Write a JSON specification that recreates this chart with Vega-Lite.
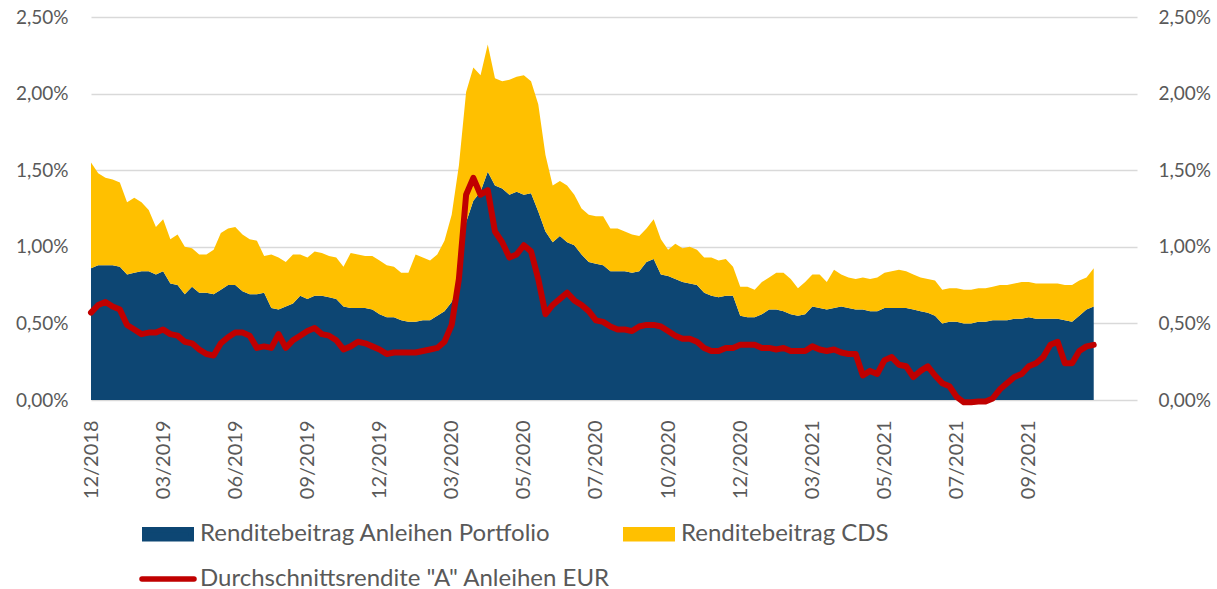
{
  "$schema": "https://vega.github.io/schema/vega-lite/v6.json",
  "width": 1046,
  "height": 383,
  "autosize": {"type": "none"},
  "padding": {"left": 91, "top": 17, "right": 80, "bottom": 189},
  "background": "white",
  "config": {
    "view": {"stroke": null},
    "font": "Lato",
    "axis": {"labelFont": "Lato", "labelColor": "#595959", "labelFontSize": 19}
  },
  "data": {"values": [
    {"d":"2018-12-03","p":0.86,"c":0.69,"r":0.57},
    {"d":"2018-12-12","p":0.88,"c":0.60,"r":0.62},
    {"d":"2018-12-21","p":0.88,"c":0.57,"r":0.64},
    {"d":"2018-12-31","p":0.88,"c":0.56,"r":0.61},
    {"d":"2019-01-09","p":0.87,"c":0.55,"r":0.59},
    {"d":"2019-01-18","p":0.82,"c":0.47,"r":0.49},
    {"d":"2019-01-28","p":0.83,"c":0.49,"r":0.46},
    {"d":"2019-02-05","p":0.84,"c":0.45,"r":0.43},
    {"d":"2019-02-14","p":0.84,"c":0.40,"r":0.44},
    {"d":"2019-02-22","p":0.82,"c":0.31,"r":0.44},
    {"d":"2019-03-04","p":0.84,"c":0.34,"r":0.46},
    {"d":"2019-03-13","p":0.76,"c":0.29,"r":0.43},
    {"d":"2019-03-22","p":0.75,"c":0.33,"r":0.42},
    {"d":"2019-04-01","p":0.69,"c":0.31,"r":0.38},
    {"d":"2019-04-10","p":0.74,"c":0.25,"r":0.37},
    {"d":"2019-04-19","p":0.70,"c":0.25,"r":0.33},
    {"d":"2019-04-29","p":0.70,"c":0.25,"r":0.30},
    {"d":"2019-05-08","p":0.69,"c":0.29,"r":0.29},
    {"d":"2019-05-17","p":0.72,"c":0.37,"r":0.37},
    {"d":"2019-05-24","p":0.75,"c":0.37,"r":0.41},
    {"d":"2019-06-03","p":0.75,"c":0.38,"r":0.44},
    {"d":"2019-06-12","p":0.71,"c":0.37,"r":0.44},
    {"d":"2019-06-21","p":0.69,"c":0.36,"r":0.42},
    {"d":"2019-07-01","p":0.69,"c":0.35,"r":0.34},
    {"d":"2019-07-10","p":0.70,"c":0.24,"r":0.35},
    {"d":"2019-07-19","p":0.60,"c":0.35,"r":0.34},
    {"d":"2019-07-29","p":0.59,"c":0.34,"r":0.43},
    {"d":"2019-08-07","p":0.61,"c":0.29,"r":0.34},
    {"d":"2019-08-16","p":0.63,"c":0.32,"r":0.39},
    {"d":"2019-08-23","p":0.68,"c":0.27,"r":0.42},
    {"d":"2019-09-02","p":0.66,"c":0.27,"r":0.45},
    {"d":"2019-09-11","p":0.68,"c":0.29,"r":0.47},
    {"d":"2019-09-20","p":0.68,"c":0.28,"r":0.43},
    {"d":"2019-09-30","p":0.67,"c":0.27,"r":0.42},
    {"d":"2019-10-09","p":0.66,"c":0.27,"r":0.39},
    {"d":"2019-10-18","p":0.61,"c":0.26,"r":0.33},
    {"d":"2019-10-28","p":0.60,"c":0.36,"r":0.35},
    {"d":"2019-11-06","p":0.60,"c":0.35,"r":0.38},
    {"d":"2019-11-15","p":0.60,"c":0.34,"r":0.37},
    {"d":"2019-11-22","p":0.59,"c":0.35,"r":0.35},
    {"d":"2019-12-02","p":0.56,"c":0.35,"r":0.33},
    {"d":"2019-12-11","p":0.54,"c":0.34,"r":0.30},
    {"d":"2019-12-20","p":0.54,"c":0.33,"r":0.31},
    {"d":"2019-12-30","p":0.52,"c":0.31,"r":0.31},
    {"d":"2020-01-08","p":0.51,"c":0.32,"r":0.31},
    {"d":"2020-01-17","p":0.51,"c":0.44,"r":0.31},
    {"d":"2020-01-27","p":0.52,"c":0.41,"r":0.32},
    {"d":"2020-02-05","p":0.52,"c":0.39,"r":0.33},
    {"d":"2020-02-14","p":0.55,"c":0.40,"r":0.34},
    {"d":"2020-02-21","p":0.58,"c":0.46,"r":0.38},
    {"d":"2020-03-02","p":0.64,"c":0.57,"r":0.49},
    {"d":"2020-03-08","p":0.76,"c":0.77,"r":0.79},
    {"d":"2020-03-14","p":1.16,"c":0.85,"r":1.34},
    {"d":"2020-03-21","p":1.30,"c":0.87,"r":1.45},
    {"d":"2020-03-27","p":1.36,"c":0.76,"r":1.34},
    {"d":"2020-04-02","p":1.49,"c":0.83,"r":1.37},
    {"d":"2020-04-08","p":1.40,"c":0.70,"r":1.10},
    {"d":"2020-04-15","p":1.38,"c":0.70,"r":1.03},
    {"d":"2020-04-21","p":1.34,"c":0.75,"r":0.93},
    {"d":"2020-04-27","p":1.36,"c":0.75,"r":0.95},
    {"d":"2020-05-04","p":1.34,"c":0.78,"r":1.01},
    {"d":"2020-05-10","p":1.35,"c":0.73,"r":0.97},
    {"d":"2020-05-16","p":1.23,"c":0.70,"r":0.79},
    {"d":"2020-05-21","p":1.10,"c":0.50,"r":0.56},
    {"d":"2020-05-27","p":1.03,"c":0.37,"r":0.62},
    {"d":"2020-06-02","p":1.07,"c":0.36,"r":0.66},
    {"d":"2020-06-08","p":1.03,"c":0.37,"r":0.70},
    {"d":"2020-06-14","p":1.01,"c":0.33,"r":0.65},
    {"d":"2020-06-19","p":0.95,"c":0.30,"r":0.62},
    {"d":"2020-06-25","p":0.90,"c":0.31,"r":0.58},
    {"d":"2020-07-01","p":0.89,"c":0.31,"r":0.52},
    {"d":"2020-07-10","p":0.88,"c":0.32,"r":0.51},
    {"d":"2020-07-19","p":0.84,"c":0.28,"r":0.48},
    {"d":"2020-07-28","p":0.84,"c":0.28,"r":0.46},
    {"d":"2020-08-06","p":0.84,"c":0.26,"r":0.46},
    {"d":"2020-08-15","p":0.83,"c":0.25,"r":0.45},
    {"d":"2020-08-24","p":0.84,"c":0.23,"r":0.48},
    {"d":"2020-09-02","p":0.90,"c":0.22,"r":0.49},
    {"d":"2020-09-11","p":0.92,"c":0.26,"r":0.49},
    {"d":"2020-09-20","p":0.82,"c":0.23,"r":0.48},
    {"d":"2020-10-01","p":0.81,"c":0.17,"r":0.45},
    {"d":"2020-10-07","p":0.79,"c":0.23,"r":0.42},
    {"d":"2020-10-13","p":0.77,"c":0.22,"r":0.40},
    {"d":"2020-10-19","p":0.76,"c":0.24,"r":0.40},
    {"d":"2020-10-25","p":0.75,"c":0.23,"r":0.38},
    {"d":"2020-10-31","p":0.70,"c":0.23,"r":0.34},
    {"d":"2020-11-06","p":0.68,"c":0.25,"r":0.32},
    {"d":"2020-11-12","p":0.67,"c":0.24,"r":0.32},
    {"d":"2020-11-18","p":0.68,"c":0.24,"r":0.34},
    {"d":"2020-11-24","p":0.68,"c":0.19,"r":0.34},
    {"d":"2020-12-01","p":0.55,"c":0.19,"r":0.36},
    {"d":"2020-12-10","p":0.54,"c":0.20,"r":0.36},
    {"d":"2020-12-19","p":0.54,"c":0.18,"r":0.36},
    {"d":"2020-12-28","p":0.56,"c":0.21,"r":0.34},
    {"d":"2021-01-06","p":0.59,"c":0.21,"r":0.34},
    {"d":"2021-01-15","p":0.59,"c":0.24,"r":0.33},
    {"d":"2021-01-24","p":0.58,"c":0.25,"r":0.34},
    {"d":"2021-02-02","p":0.56,"c":0.23,"r":0.32},
    {"d":"2021-02-11","p":0.55,"c":0.18,"r":0.32},
    {"d":"2021-02-20","p":0.56,"c":0.21,"r":0.32},
    {"d":"2021-03-01","p":0.61,"c":0.21,"r":0.35},
    {"d":"2021-03-07","p":0.60,"c":0.22,"r":0.33},
    {"d":"2021-03-13","p":0.59,"c":0.18,"r":0.32},
    {"d":"2021-03-20","p":0.60,"c":0.25,"r":0.33},
    {"d":"2021-03-26","p":0.61,"c":0.21,"r":0.31},
    {"d":"2021-04-01","p":0.60,"c":0.20,"r":0.30},
    {"d":"2021-04-07","p":0.59,"c":0.20,"r":0.30},
    {"d":"2021-04-14","p":0.59,"c":0.21,"r":0.16},
    {"d":"2021-04-20","p":0.58,"c":0.21,"r":0.19},
    {"d":"2021-04-26","p":0.58,"c":0.22,"r":0.17},
    {"d":"2021-05-03","p":0.60,"c":0.23,"r":0.26},
    {"d":"2021-05-09","p":0.60,"c":0.24,"r":0.28},
    {"d":"2021-05-15","p":0.60,"c":0.25,"r":0.23},
    {"d":"2021-05-21","p":0.60,"c":0.24,"r":0.22},
    {"d":"2021-05-27","p":0.59,"c":0.23,"r":0.15},
    {"d":"2021-06-02","p":0.58,"c":0.22,"r":0.19},
    {"d":"2021-06-08","p":0.57,"c":0.22,"r":0.22},
    {"d":"2021-06-14","p":0.55,"c":0.23,"r":0.16},
    {"d":"2021-06-19","p":0.50,"c":0.22,"r":0.11},
    {"d":"2021-06-25","p":0.51,"c":0.22,"r":0.09},
    {"d":"2021-07-01","p":0.51,"c":0.22,"r":0.02},
    {"d":"2021-07-07","p":0.50,"c":0.22,"r":-0.015},
    {"d":"2021-07-13","p":0.50,"c":0.22,"r":-0.015},
    {"d":"2021-07-19","p":0.51,"c":0.22,"r":-0.01},
    {"d":"2021-07-25","p":0.51,"c":0.22,"r":-0.01},
    {"d":"2021-07-31","p":0.52,"c":0.22,"r":0.01},
    {"d":"2021-08-06","p":0.52,"c":0.23,"r":0.07},
    {"d":"2021-08-12","p":0.52,"c":0.23,"r":0.11},
    {"d":"2021-08-18","p":0.53,"c":0.23,"r":0.15},
    {"d":"2021-08-24","p":0.53,"c":0.24,"r":0.17},
    {"d":"2021-09-01","p":0.54,"c":0.23,"r":0.22},
    {"d":"2021-09-07","p":0.53,"c":0.23,"r":0.24},
    {"d":"2021-09-14","p":0.53,"c":0.23,"r":0.28},
    {"d":"2021-09-21","p":0.53,"c":0.23,"r":0.36},
    {"d":"2021-09-27","p":0.53,"c":0.23,"r":0.38},
    {"d":"2021-10-04","p":0.52,"c":0.23,"r":0.24},
    {"d":"2021-10-11","p":0.51,"c":0.24,"r":0.24},
    {"d":"2021-10-17","p":0.55,"c":0.23,"r":0.32},
    {"d":"2021-10-24","p":0.59,"c":0.21,"r":0.35},
    {"d":"2021-10-31","p":0.61,"c":0.25,"r":0.36}
  ]},
  "encoding": {
    "x": {
      "field": "d",
      "type": "ordinal",
      "scale": {"type": "point", "padding": 0, "domain": {"unionWith": ["2021-11-07","2021-11-14","2021-11-21","2021-11-28","2021-12-05","2021-12-12"]}},
      "axis": {
        "title": null,
        "values": ["2018-12-03","2019-03-04","2019-06-03","2019-09-02","2019-12-02","2020-03-02","2020-05-04","2020-07-01","2020-10-01","2020-12-01","2021-03-01","2021-05-03","2021-07-01","2021-09-01"],
        "labelExpr": "slice(datum.value,5,7) + '/' + slice(datum.value,0,4)",
        "labelAngle": -90,
        "labelAlign": "right",
        "labelBaseline": "middle",
        "labelPadding": 20,
        "labelFontSize": 20,
        "ticks": false,
        "domain": false,
        "grid": false
      }
    }
  },
  "layer": [
    {
      "transform": [{"fold": ["p", "c"], "as": ["key", "val"]}],
      "mark": {"type": "area", "interpolate": "linear"},
      "encoding": {
        "y": {
          "field": "val",
          "type": "quantitative",
          "stack": "zero",
          "scale": {"domain": [0, 2.5], "nice": false},
          "axis": {
            "orient": "left",
            "title": null,
            "values": [0, 0.5, 1, 1.5, 2, 2.5],
            "labelExpr": "replace(format(datum.value, '.2f'), '.', ',') + '%'",
            "grid": true,
            "gridColor": "#D9D9D9",
            "gridWidth": 1.5,
            "domain": false,
            "ticks": false,
            "labelPadding": 23
          }
        },
        "color": {
          "field": "key",
          "type": "nominal",
          "scale": {"domain": ["p", "c", "r"], "range": ["#0D4673", "#FFC000", "#C00000"]},
          "legend": {
            "title": null,
            "orient": "none",
            "legendX": 48,
            "legendY": 488,
            "direction": "horizontal",
            "columns": 2,
            "symbolSize": 2704,
            "symbolStrokeWidth": 5.5,
            "labelFont": "Lato",
            "labelFontSize": 24,
            "labelColor": "#595959",
            "labelOffset": 3,
            "labelLimit": 800,
            "columnPadding": 4,
            "rowPadding": -8,
            "labelExpr": "datum.value == 'p' ? 'Renditebeitrag Anleihen Portfolio' : datum.value == 'c' ? 'Renditebeitrag CDS' : 'Durchschnittsrendite \"A\" Anleihen EUR'",
            "encode": {
              "symbols": {
                "update": {
                  "shape": {"signal": "datum.value == 'r' ? 'stroke' : 'M-0.894,-0.173H0.894V0.173H-0.894Z'"},
                  "fill": {"signal": "datum.value == 'p' ? '#0D4673' : datum.value == 'c' ? '#FFC000' : 'transparent'"},
                  "stroke": {"signal": "datum.value == 'p' ? '#0D4673' : datum.value == 'c' ? '#FFC000' : '#C00000'"},
                  "strokeWidth": {"value": 5.5},
                  "strokeCap": {"value": "round"},
                  "strokeJoin": {"value": "miter"},
                  "opacity": {"value": 1}
                }
              }
            }
          }
        },
        "order": {"field": "key", "sort": "descending"}
      }
    },
    {
      "mark": {"type": "line", "color": "#C00000", "strokeWidth": 6, "strokeCap": "round", "strokeJoin": "round"},
      "encoding": {
        "y": {
          "field": "r",
          "type": "quantitative",
          "axis": {
            "orient": "right",
            "title": null,
            "values": [0, 0.5, 1, 1.5, 2, 2.5],
            "labelExpr": "replace(format(datum.value, '.2f'), '.', ',') + '%'",
            "grid": false,
            "domain": false,
            "ticks": false,
            "labelPadding": 21,
            "labelAlign": "left"
          }
        },
        "color": {"datum": "r", "type": "nominal"}
      }
    }
  ],
  "resolve": {"scale": {"y": "shared"}, "axis": {"y": "independent"}}
}
